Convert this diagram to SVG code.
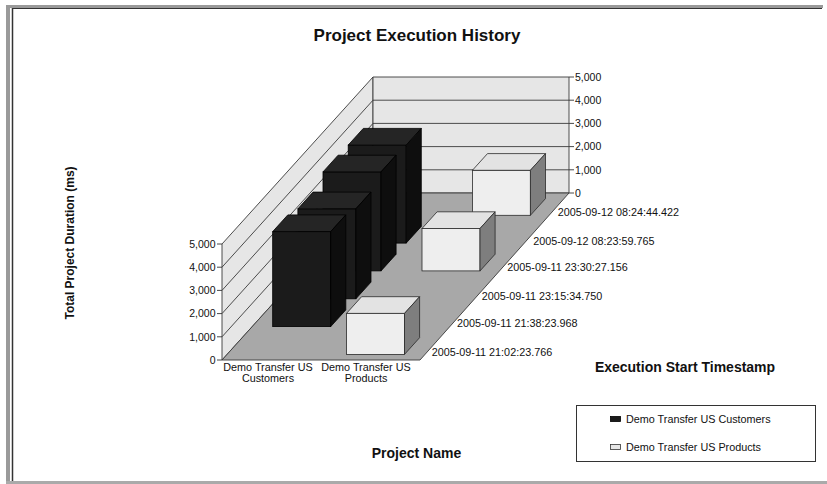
<svg xmlns="http://www.w3.org/2000/svg" width="827" height="484" viewBox="0 0 827 484">
<style>
text{font-family:"Liberation Sans",Arial,sans-serif;fill:#111}
.t{font-size:10.8px}
.ax{font-size:10.5px}
.b{font-weight:bold}
.wall{fill:#e6e6e6;stroke:#3a3a3a;stroke-width:0.9}
.floor{fill:#a8a8a8;stroke:#3a3a3a;stroke-width:0.9}
.grid{stroke:#3a3a3a;stroke-width:0.9;fill:none}
.tick{stroke:#333;stroke-width:0.9}
.kf{fill:#1b1b1b;stroke:#000;stroke-width:0.8}
.kt{fill:#252525;stroke:#000;stroke-width:0.8}
.ks{fill:#0e0e0e;stroke:#000;stroke-width:0.8}
.wf{fill:#eeeeee;stroke:#2a2a2a;stroke-width:0.8}
.wt{fill:#e3e3e3;stroke:#2a2a2a;stroke-width:0.8}
.ws{fill:#7e7e7e;stroke:#2a2a2a;stroke-width:0.8}
</style>
<rect width="827" height="484" fill="#fff"/>
<g id="frame">
<rect x="6" y="5" width="817" height="3" fill="#9a9a9a"/>
<rect x="6" y="5" width="4" height="479" fill="#9a9a9a"/>
<line x1="12.5" y1="8" x2="12.5" y2="481" stroke="#333" stroke-width="1.5"/>
<line x1="12" y1="8.5" x2="822" y2="8.5" stroke="#333" stroke-width="1"/>
<rect x="6" y="481" width="821" height="3" fill="#aaaaaa"/>
</g>
<text id="title" class="b" x="417" y="41" font-size="17" text-anchor="middle">Project Execution History</text>
<g id="walls">
<polygon class="wall" points="222,360 373,193 373,77 222,244"/>
<polygon class="wall" points="373,77 569,77 569,193 373,193"/>
<polygon class="floor" points="222,360 420,360 569,193 373,193"/>
<path class="grid" d="M222,336.8L373,169.8M222,313.6L373,146.6M222,290.4L373,123.4M222,267.2L373,100.2M373,169.8H569M373,146.6H569M373,123.4H569M373,100.2H569"/>
</g>
<g id="axis-left">
<path class="tick" d="M217,360H222M217,336.8H222M217,313.6H222M217,290.4H222M217,267.2H222M217,244H222"/>
<g class="ax" text-anchor="end">
<text x="215.5" y="363.8">0</text>
<text x="215.5" y="340.6">1,000</text>
<text x="215.5" y="317.4">2,000</text>
<text x="215.5" y="294.2">3,000</text>
<text x="215.5" y="271">4,000</text>
<text x="215.5" y="247.8">5,000</text>
</g>
</g>
<g id="axis-right">
<path class="tick" d="M569,193H574M569,169.8H574M569,146.6H574M569,123.4H574M569,100.2H574M569,77H574"/>
<g class="ax">
<text x="575" y="196.8">0</text>
<text x="575" y="173.6">1,000</text>
<text x="575" y="150.4">2,000</text>
<text x="575" y="127.2">3,000</text>
<text x="575" y="104">4,000</text>
<text x="575" y="80.8">5,000</text>
</g>
</g>
<g id="bars">
<g id="bar-white-r5">
<rect class="wf" x="472.4" y="170.3" width="58" height="45"/>
<polygon class="wt" points="472.4,170.3 530.4,170.3 545.5,153.6 487.5,153.6"/>
<polygon class="ws" points="530.4,170.3 545.5,153.6 545.5,198.6 530.4,215.3"/>
</g>
<g id="bar-black-r4">
<rect class="kf" x="348.2" y="145.1" width="58" height="98"/>
<polygon class="kt" points="348.2,145.1 406.2,145.1 421.3,128.4 363.3,128.4"/>
<polygon class="ks" points="406.2,145.1 421.3,128.4 421.3,226.4 406.2,243.1"/>
</g>
<g id="bar-black-r3">
<rect class="kf" x="323" y="171.9" width="58" height="99"/>
<polygon class="kt" points="323,171.9 381,171.9 396.1,155.2 338.1,155.2"/>
<polygon class="ks" points="381,171.9 396.1,155.2 396.1,254.2 381,270.9"/>
</g>
<g id="bar-white-r3">
<rect class="wf" x="422" y="228.5" width="58" height="42.4"/>
<polygon class="wt" points="422,228.5 480,228.5 495.1,211.8 437.1,211.8"/>
<polygon class="ws" points="480,228.5 495.1,211.8 495.1,254.2 480,270.9"/>
</g>
<g id="bar-black-r2">
<rect class="kf" x="297.9" y="208.8" width="58" height="90"/>
<polygon class="kt" points="297.9,208.8 355.9,208.8 371,192.1 313,192.1"/>
<polygon class="ks" points="355.9,208.8 371,192.1 371,282.1 355.9,298.8"/>
</g>
<g id="bar-black-r1">
<rect class="kf" x="272.7" y="231.6" width="58" height="95"/>
<polygon class="kt" points="272.7,231.6 330.7,231.6 345.8,214.9 287.8,214.9"/>
<polygon class="ks" points="330.7,231.6 345.8,214.9 345.8,309.9 330.7,326.6"/>
</g>
<g id="bar-white-r0">
<rect class="wf" x="346.5" y="313.4" width="58" height="41"/>
<polygon class="wt" points="346.5,313.4 404.5,313.4 419.6,296.7 361.6,296.7"/>
<polygon class="ws" points="404.5,313.4 419.6,296.7 419.6,337.7 404.5,354.4"/>
</g>
</g>
<g id="category-labels" class="t" text-anchor="middle">
<text x="268" y="370.5">Demo Transfer US</text>
<text x="268" y="382">Customers</text>
<text x="366" y="370.5">Demo Transfer US</text>
<text x="366" y="382">Products</text>
</g>
<g id="timestamp-labels" class="t">
<text x="431.7" y="355.5">2005-09-11 21:02:23.766</text>
<text x="457" y="327.1">2005-09-11 21:38:23.968</text>
<text x="481.7" y="299.5">2005-09-11 23:15:34.750</text>
<text x="507.3" y="271.1">2005-09-11 23:30:27.156</text>
<text x="533.3" y="244.5">2005-09-12 08:23:59.765</text>
<text x="557.7" y="216.1">2005-09-12 08:24:44.422</text>
</g>
<text id="y-title" class="b" font-size="12" text-anchor="middle" transform="translate(74,243) rotate(-90)">Total Project Duration (ms)</text>
<text id="z-title" class="b" font-size="14" x="685" y="371.5" text-anchor="middle">Execution Start Timestamp</text>
<text id="x-title" class="b" font-size="14" x="416.5" y="458" text-anchor="middle">Project Name</text>
<g id="legend">
<rect x="576.5" y="405.5" width="239" height="56" fill="#fff" stroke="#333" stroke-width="1"/>
<rect x="610.5" y="416.5" width="10" height="5" fill="#1b1b1b" stroke="#000" stroke-width="0.8"/>
<text class="t" x="626" y="423">Demo Transfer US Customers</text>
<rect x="610.5" y="444.5" width="10" height="5" fill="#e6e6e6" stroke="#333" stroke-width="0.8"/>
<text class="t" x="626" y="451">Demo Transfer US Products</text>
</g>
</svg>
